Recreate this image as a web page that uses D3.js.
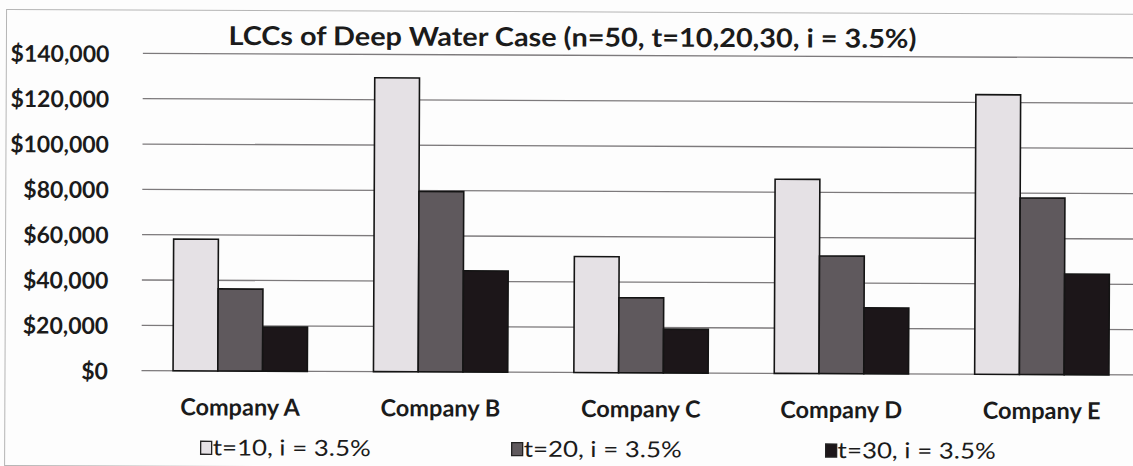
<!DOCTYPE html>
<html>
<head>
<meta charset="utf-8">
<script src="https://cdn.jsdelivr.net/npm/d3@7"></script>
<style>
  html, body { margin: 0; padding: 0; background: #fdfdfd; }
  svg { display: block; }
  text { font-family: Lato, "Open Sans", sans-serif; fill: #1b1b1b; }
</style>
</head>
<body>
<div id="chart"></div>
<script>
// Life-cycle costs per company for three analysis periods
const categories = ["Company A", "Company B", "Company C", "Company D", "Company E"];
const seriesNames = ["t=10, i = 3.5%", "t=20, i = 3.5%", "t=30, i = 3.5%"];
const t10 = [58100, 129700, 51200, 85700, 123400];
const t20 = [36200, 79600, 33100, 51900, 77900];
const t30 = [19500, 44700, 19300, 29100, 44400];
const yTicks = [0, 20000, 40000, 60000, 80000, 100000, 120000, 140000];
const titleText = "LCCs of Deep Water Case (n=50, t=10,20,30, i = 3.5%)";

const series = [t10, t20, t30];
const colors = ["#e5e1e5", "#5f595d", "#1c1619"];

const W = 1133, H = 466;
const svg = d3.select("#chart").append("svg")
  .attr("width", W).attr("height", H);

const g = svg.append("g").attr("transform", "rotate(0.25, 140, 370)");

// outer chart frame
g.append("rect")
  .attr("x", 5).attr("y", 10).attr("width", 1160).attr("height", 456)
  .attr("fill", "none").attr("stroke", "#b5b5b5").attr("stroke-width", 1);

const x0 = d3.scaleBand().domain(categories).range([140, 1142])
  .paddingInner(0.33).paddingOuter(0.165);
const x1 = d3.scaleBand().domain(d3.range(series.length)).range([0, x0.bandwidth()]);
const y = d3.scaleLinear().domain([0, 140000]).range([370.6, 53.4]);

// horizontal gridlines
g.append("g").selectAll("line").data(yTicks).join("line")
  .attr("x1", 141.5).attr("x2", 1160)
  .attr("y1", d => y(d)).attr("y2", d => y(d))
  .attr("stroke", "#7d7a7c").attr("stroke-width", 1.3);

// y axis labels
const yAxis = g.append("g").attr("transform", "translate(108,0)")
  .call(d3.axisLeft(y).tickValues(yTicks).tickFormat(d3.format("$,")).tickSize(0).tickPadding(0));
yAxis.select(".domain").remove();
yAxis.selectAll("text")
  .style("font-family", "Lato, sans-serif")
  .style("font-weight", "700").style("font-size", "23px").attr("fill", "#1b1b1b")
  .attr("dy", "0.36em");

// bars
const groups = g.append("g").selectAll("g").data(categories).join("g")
  .attr("transform", d => `translate(${x0(d)},0)`);
groups.selectAll("rect")
  .data((d, i) => series.map((s, k) => ({ k, v: s[i] })))
  .join("rect")
  .attr("x", d => x1(d.k))
  .attr("width", x1.bandwidth())
  .attr("y", d => y(d.v))
  .attr("height", d => y(0) - y(d.v))
  .attr("fill", d => colors[d.k])
  .attr("stroke", "#141414").attr("stroke-width", 1.6);

// category labels
const xAxis = g.append("g").attr("transform", `translate(0,${y(0)})`)
  .call(d3.axisBottom(x0).tickSize(0).tickPadding(0));
xAxis.select(".domain").remove();
xAxis.selectAll("text")
  .attr("y", 44.5).attr("dy", 0)
  .style("font-family", "Lato, sans-serif")
  .style("font-weight", "700").style("font-size", "23.5px").attr("fill", "#1b1b1b");

// title
g.append("text")
  .attr("x", 227).attr("y", 44.5)
  .attr("textLength", 688).attr("lengthAdjust", "spacingAndGlyphs")
  .style("font-weight", "700").style("font-size", "26px")
  .text(titleText);

// legend
const legendX = [201, 512, 826];
const legend = g.append("g").selectAll("g").data(seriesNames).join("g")
  .attr("transform", (d, i) => `translate(${legendX[i]},455)`);
legend.append("rect")
  .attr("x", 0).attr("y", -14).attr("width", 11).attr("height", 13)
  .attr("fill", (d, i) => colors[i]).attr("stroke", "#222").attr("stroke-width", 1.3);
legend.append("text")
  .attr("x", 12).attr("y", 0)
  .attr("textLength", 158).attr("lengthAdjust", "spacingAndGlyphs")
  .style("font-size", "22px")
  .text(d => d);
</script>
</body>
</html>
